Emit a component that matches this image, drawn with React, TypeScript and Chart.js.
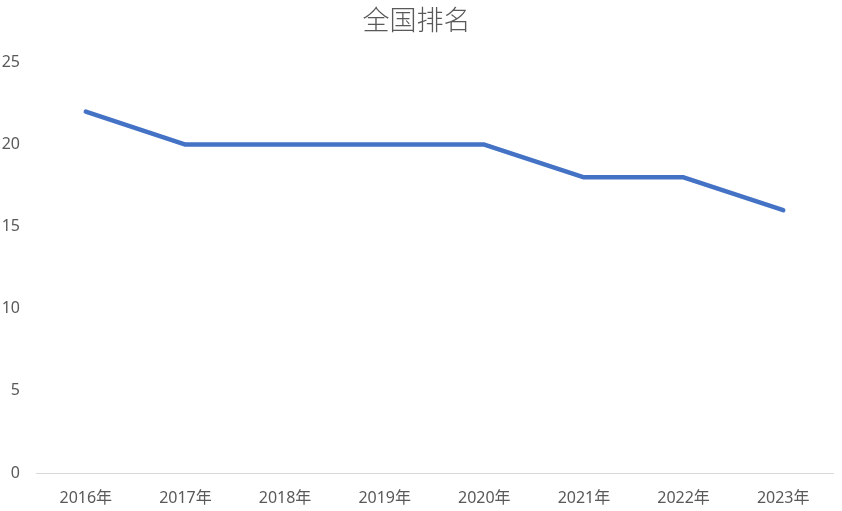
import React, { useEffect, useRef } from "react";
import { Chart, registerables } from "chart.js";

Chart.register(...registerables);

const categories = ["2016年", "2017年", "2018年", "2019年", "2020年", "2021年", "2022年", "2023年"];
const rankValues = [22, 20, 20, 20, 20, 18, 18, 16];
const titleText = "全国排名";
const yMin = 0;
const yMax = 25;
const yStep = 5;

export default function App() {
  const ref = useRef<HTMLCanvasElement | null>(null);
  useEffect(() => {
    if (!ref.current) return;
    const chart = new Chart(ref.current, {
      type: "line",
      data: {
        labels: categories,
        datasets: [
          {
            label: titleText,
            data: rankValues,
            borderColor: "#4472C4",
            backgroundColor: "#4472C4",
            borderWidth: 4.5,
            pointRadius: 0,
            borderCapStyle: "round",
            borderJoinStyle: "round",
            tension: 0,
          },
        ],
      },
      options: {
        animation: false,
        responsive: false,
        maintainAspectRatio: false,
        layout: { padding: { top: 0, left: 0, right: 9, bottom: 0 } },
        plugins: {
          legend: { display: false },
          tooltip: { enabled: false },
          title: {
            display: true,
            text: titleText,
            color: "#595959",
            font: { family: "'Noto Sans CJK SC', sans-serif", size: 27, weight: "300" as any },
            padding: { top: 4, bottom: 26 },
          },
        },
        scales: {
          x: {
            offset: true,
            grid: { display: false, drawTicks: false },
            border: { display: true, color: "#D9D9D9", width: 1 },
            ticks: {
              color: "#595959",
              font: { family: "'Noto Sans', 'Noto Sans CJK SC', sans-serif", size: 16 },
              padding: 16,
              maxRotation: 0,
              autoSkip: false,
            },
            afterFit: (s: any) => {
              s.height = 38;
            },
          },
          y: {
            min: yMin,
            max: yMax,
            grid: { display: false, drawTicks: false },
            border: { display: false },
            ticks: {
              stepSize: yStep,
              color: "#595959",
              font: { family: "'Noto Sans', sans-serif", size: 16 },
              padding: 16,
            },
            afterFit: (s: any) => {
              s.width = 36;
            },
          },
        },
      },
    });
    return () => chart.destroy();
  }, []);
  return (
    <div style={{ position: "fixed", left: 0, top: 0, width: 842, height: 511, background: "#fff" }}>
      <canvas ref={ref} width={842} height={511} style={{ width: 842, height: 511, display: "block" }} />
    </div>
  );
}
